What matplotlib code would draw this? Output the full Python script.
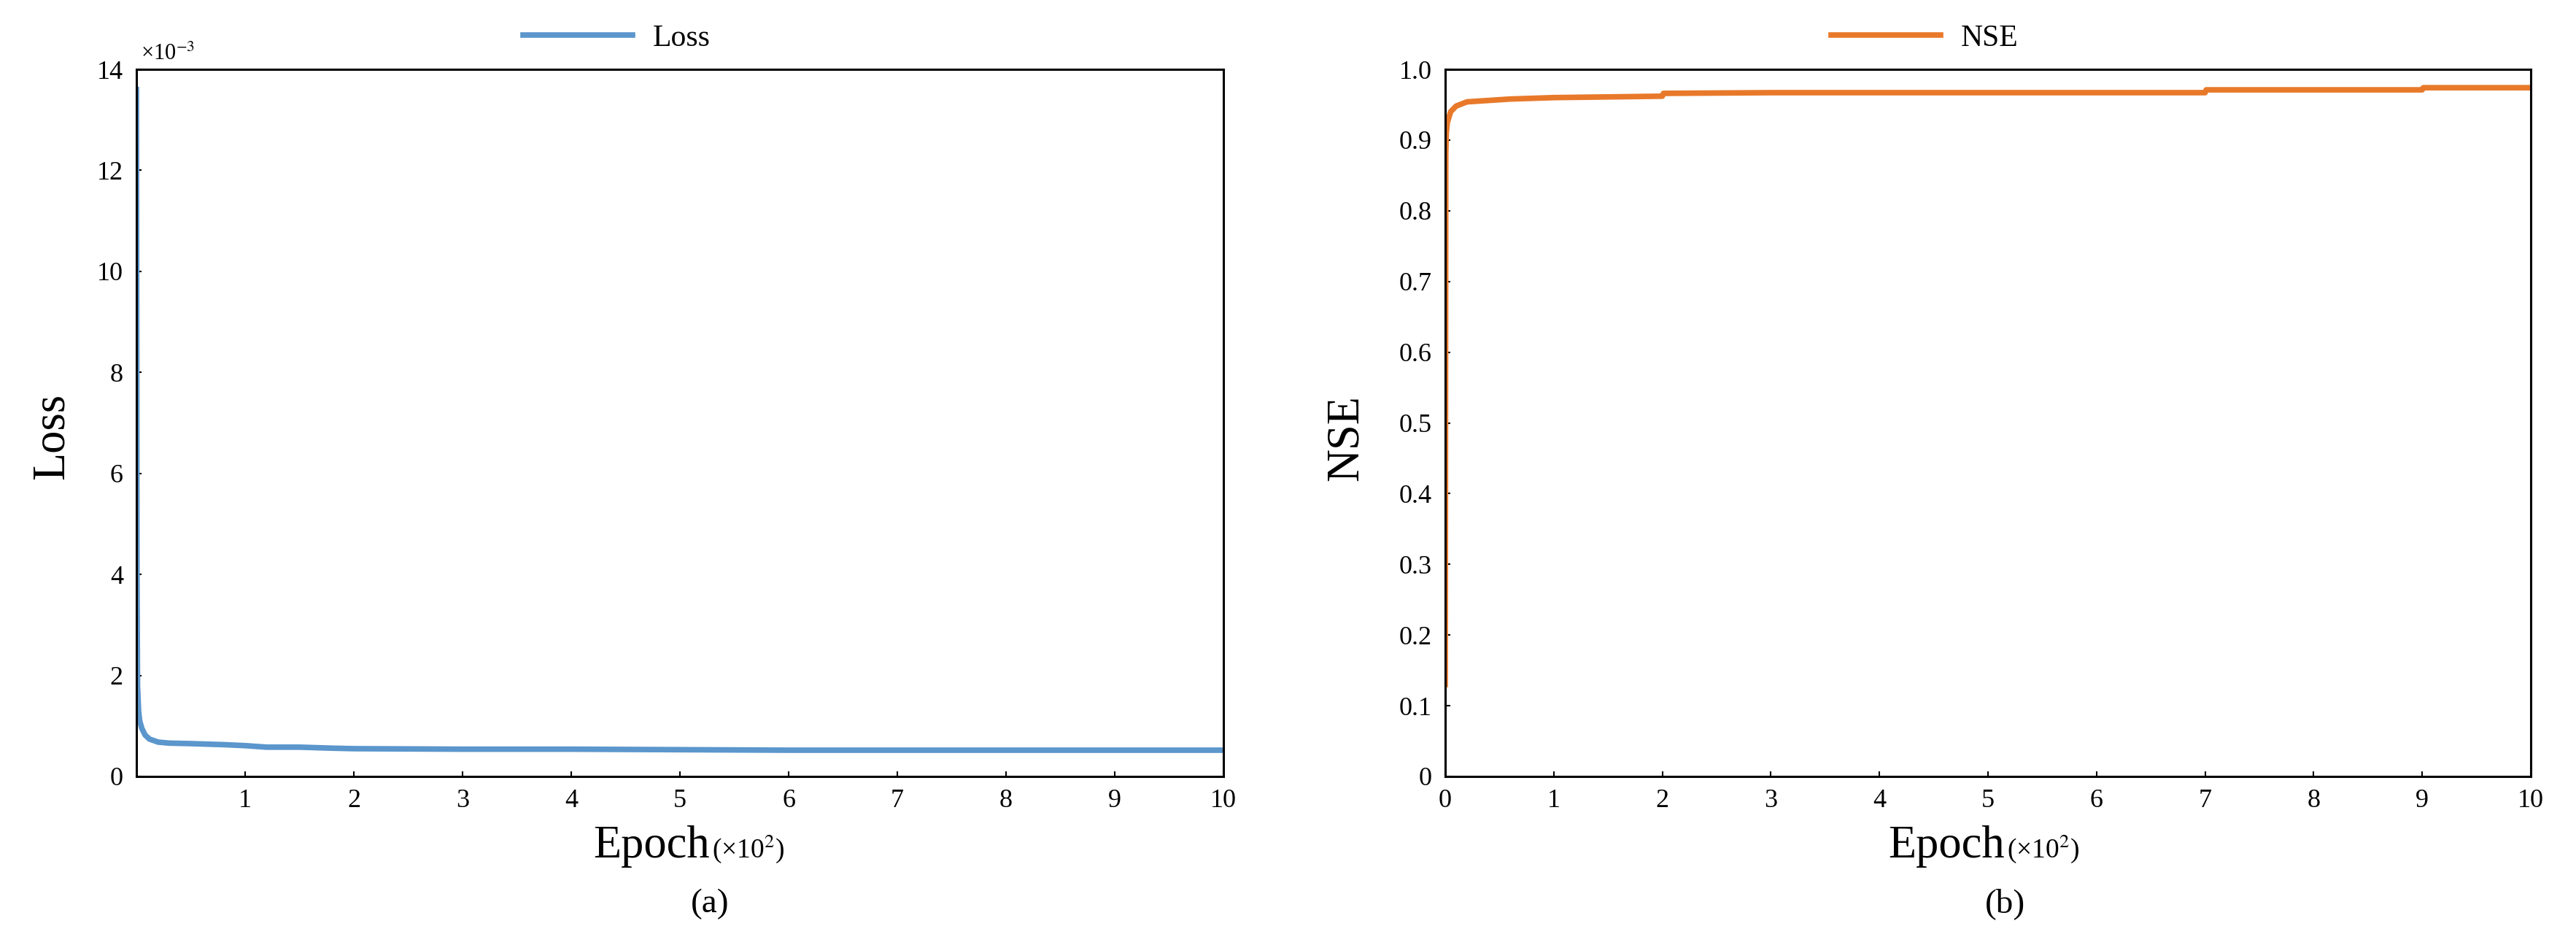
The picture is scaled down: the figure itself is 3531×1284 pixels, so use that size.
import numpy as np
import matplotlib
matplotlib.use("Agg")
import matplotlib.pyplot as plt

plt.rcParams['font.family'] = ['Liberation Serif', 'DejaVu Serif']
plt.rcParams['mathtext.fontset'] = 'stix'

# ---- data (epoch in units of 10^2, loss in units of 10^-3) ----
loss_epoch = [0, 0.005, 0.01, 0.02, 0.03, 0.05, 0.08, 0.12, 0.2, 0.3, 0.5, 0.8, 1.0,
              1.2, 1.5, 1.8, 2.0, 3.0, 4.0, 5.0, 6.0, 8.0, 10.0]
loss_value = [13.6, 4.0, 1.8, 1.3, 1.1, 0.95, 0.82, 0.74, 0.68, 0.66, 0.65, 0.63, 0.61,
              0.58, 0.58, 0.56, 0.55, 0.54, 0.54, 0.53, 0.52, 0.52, 0.52]

nse_epoch = [0, 0.005, 0.01, 0.02, 0.05, 0.1, 0.2, 0.4, 0.6, 1.0, 1.5, 2.0, 2.01,
             3.0, 5.0, 7.0, 7.01, 9.0, 9.01, 10.0]
nse_value = [0.13, 0.88, 0.91, 0.925, 0.94, 0.948, 0.954, 0.956, 0.958, 0.960, 0.961, 0.962, 0.966,
             0.967, 0.967, 0.967, 0.971, 0.971, 0.974, 0.974]

loss_yticks = [0, 2, 4, 6, 8, 10, 12, 14]
loss_xticks = [1, 2, 3, 4, 5, 6, 7, 8, 9, 10]
nse_yticks = [0, 0.1, 0.2, 0.3, 0.4, 0.5, 0.6, 0.7, 0.8, 0.9, 1.0]
nse_yticklabels = ['0', '0.1', '0.2', '0.3', '0.4', '0.5', '0.6', '0.7', '0.8', '0.9', '1.0']
nse_xticks = [0, 1, 2, 3, 4, 5, 6, 7, 8, 9, 10]

blue = '#5b96cc'
orange = '#e8792a'

W, H = 3531, 1284
fig = plt.figure(figsize=(W / 100, H / 100), dpi=100)
ax1 = fig.add_axes([187 / W, 1 - 1064 / H, 1490 / W, 969 / H])
ax2 = fig.add_axes([1981 / W, 1 - 1064 / H, 1488 / W, 969 / H])

ax1.plot(loss_epoch, loss_value, color=blue, lw=5.5, label='Loss')
ax2.plot(nse_epoch, nse_value, color=orange, lw=5.5, label='NSE')

ax1.set_xlim(0, 10)
ax1.set_ylim(0, 14)
ax1.set_xticks(loss_xticks)
ax1.set_yticks(loss_yticks)

ax2.set_xlim(0, 10)
ax2.set_ylim(0, 1.0)
ax2.set_xticks(nse_xticks)
ax2.set_yticks(nse_yticks)
ax2.set_yticklabels(nse_yticklabels)

for ax in (ax1, ax2):
    for s in ax.spines.values():
        s.set_linewidth(2.2)
        s.set_color('black')
    ax.tick_params(axis='both', direction='in', length=5, width=1.5, labelsize=26)
    ax.tick_params(axis='y', pad=13)
    ax.tick_params(axis='x', pad=12)

# y labels
ax1.text(-0.0772, 0.481, 'Loss', rotation=90, ha='center', va='center',
         fontsize=45, transform=ax1.transAxes)
ax2.text(-0.0907, 0.479, 'NSE', rotation=90, ha='center', va='center',
         fontsize=45, transform=ax2.transAxes)

# x labels
for ax, xe in ((ax1, 0.5275), (ax2, 0.5155)):
    ax.text(xe, -0.1146, 'Epoch', ha='right', va='baseline', fontsize=45,
            transform=ax.transAxes)
    ax.text(xe + 0.002, -0.1146, r'(×10$^{2}$)', ha='left', va='baseline', fontsize=27,
            transform=ax.transAxes)

# sub captions
ax1.text(0.5275, -0.1806, '(a)', ha='center', va='center', fontsize=34, transform=ax1.transAxes)
ax2.text(0.5155, -0.1806, '(b)', ha='center', va='center', fontsize=34, transform=ax2.transAxes)

# offset text
ax1.text(0.004, 1.013, r'×10$^{-3}$', ha='left', va='baseline', fontsize=22,
         transform=ax1.transAxes)

# legends
for ax in (ax1, ax2):
    ax.legend(loc='center', bbox_to_anchor=(0.4416, 1.044), frameon=False, fontsize=30,
              handlelength=3.6, handletextpad=0.67, borderaxespad=0)

fig.savefig('out.png', dpi=100, facecolor='white')
